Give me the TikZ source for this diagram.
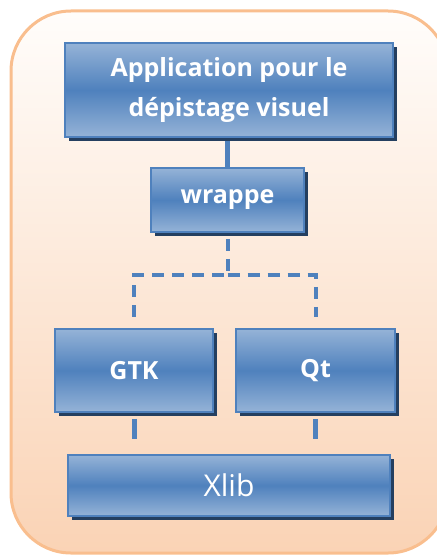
\documentclass[tikz,border=0pt]{standalone}
\usepackage{fontspec}
\setmainfont{Open Sans}
\usetikzlibrary{shadows,backgrounds}
\definecolor{boxmid}{HTML}{4F81BD}
\definecolor{boxlight}{HTML}{95B3D7}
\definecolor{boxedge}{HTML}{4F81BD}
\definecolor{boxshadow}{HTML}{243F60}
\definecolor{outertop}{HTML}{FFFDFB}
\definecolor{outerbot}{HTML}{FAD3B5}
\definecolor{outeredge}{HTML}{F9BE8E}
\tikzset{
  layerbox/.style={draw=boxedge, line width=1.5pt, top color=boxlight, bottom color=boxlight, middle color=boxmid,
    drop shadow={shadow xshift=4pt, shadow yshift=-4pt, fill=boxshadow, opacity=1},
    text=white, font=\bfseries\fontsize{25}{40}\selectfont, align=center, inner sep=0pt},
  link/.style={draw=boxmid, line width=5pt},
  dlink/.style={draw=boxmid, line width=4pt, dash pattern=on 12pt off 8pt},
}
\begin{document}
\begin{tikzpicture}[x=1pt,y=-1pt]
\useasboundingbox (0,0) rectangle (436,556);
\clip (0,0) rectangle (436,556);
\node[layerbox, minimum width=328pt, minimum height=94pt] (app) at (229,90) {Application pour le\\dépistage visuel};
\node[layerbox, minimum width=153pt, minimum height=64pt] (wrap) at (227.5,200) {wrappe};
\node[layerbox, minimum width=158pt, minimum height=83pt] (gtk) at (134,370.5) {GTK};
\node[layerbox, minimum width=159pt, minimum height=83pt] (qt) at (315.5,370.5) {Qt};
\node[layerbox, minimum width=322pt, minimum height=61pt, font=\mdseries\fontsize{30}{32}\selectfont] (xlib) at (229,485.5) {Xlib};
\begin{scope}[on background layer]
\draw[outeredge, line width=3pt, rounded corners=60pt, top color=outertop, bottom color=outerbot, shading angle=0] (11,11) rectangle (448,553);
\draw[link] (wrap.north |- app.south) -- (wrap.north);
\draw[dlink, shorten >=11pt] (wrap.south) ++(0,6) -- ++(0,36) -| (gtk.north);
\draw[dlink, shorten >=11pt] (wrap.south) ++(0,42) -| (qt.north);
\draw[link, shorten <=6pt, shorten >=15pt] (gtk.south) -- (gtk.south |- xlib.north);
\draw[link, shorten <=6pt, shorten >=15pt] (qt.south) -- (qt.south |- xlib.north);
\end{scope}
\end{tikzpicture}
\end{document}
